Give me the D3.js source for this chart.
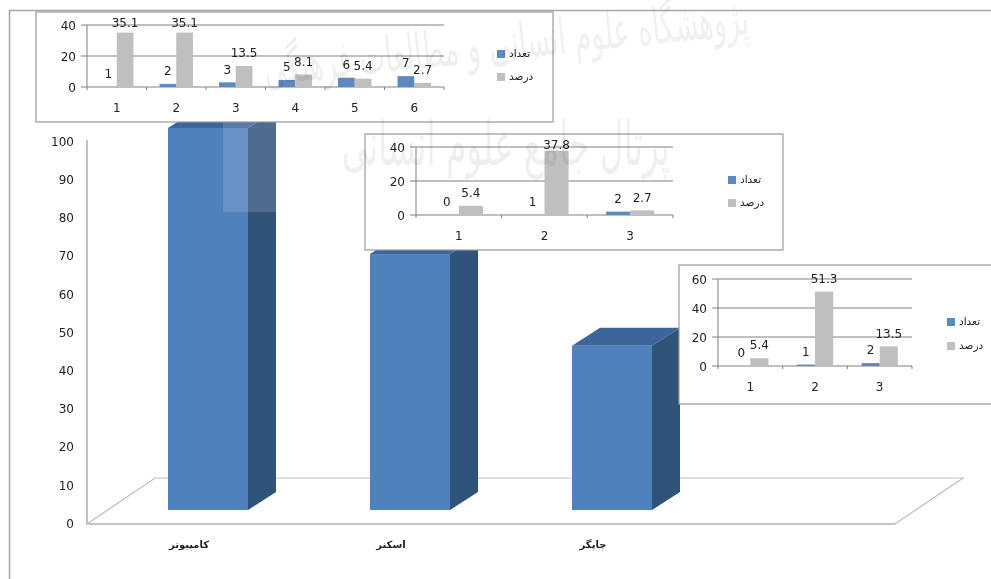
<!DOCTYPE html>
<html>
<head>
<meta charset="utf-8">
<script src="https://d3js.org/d3.v7.min.js"></script>
<style>
html, body { margin: 0; padding: 0; background: #fff; overflow: hidden; }
svg { display: block; filter: blur(0.35px); }
text { font-family: "DejaVu Sans", sans-serif; fill: #222; font-size: 12px; }
.domain { display: none; }
</style>
</head>
<body>
<div id="chart"></div>
<script>
// Datos del grafico principal
var mainCategories = ["کامپیوتر", "اسکنر", "چاپگر", ""];
var mainValues = [100, 67, 43];
var mainTicks = [0, 10, 20, 30, 40, 50, 60, 70, 80, 90, 100];

// Datos de los tres recuadros
var seriesNames = ["تعداد", "درصد"];

var inset1Cats = ["1", "2", "3", "4", "5", "6"];
var inset1Counts = [0, 2, 3, 4.5, 6, 7];
var inset1CountLabels = ["1", "2", "3", "5", "6", "7"];
var inset1Percents = [35.1, 35.1, 13.5, 8.1, 5.4, 2.7];
var inset1Ticks = [0, 20, 40];

var inset2Cats = ["1", "2", "3"];
var inset2Counts = [0, 0, 2];
var inset2CountLabels = ["0", "1", "2"];
var inset2Percents = [5.4, 37.8, 2.7];
var inset2Ticks = [0, 20, 40];

var inset3Cats = ["1", "2", "3"];
var inset3Counts = [0, 1, 2];
var inset3CountLabels = ["0", "1", "2"];
var inset3Percents = [5.4, 51.3, 13.5];
var inset3Ticks = [0, 20, 40, 60];

var azul = "#4f81bd";
var azulLado = "#305379";
var azulTapa = "#3b659b";
var azulChico = "#5b89c0";
var gris = "#bfbfbf";

var svg = d3.select("#chart").append("svg")
  .attr("width", 991)
  .attr("height", 579);

// Marco de la pagina
svg.append("path")
  .attr("d", "M991,10.5H9.5V579")
  .attr("fill", "none")
  .attr("stroke", "#a8a8a8")
  .attr("stroke-width", 1.6);

/*
 * Grafico principal
 */
var yMain = d3.scaleLinear().domain([0, 100]).range([522, 140]);
var xMain = d3.scaleBand().domain(mainCategories).range([107, 915]).padding(0);
var barAncho = 80;
var dx = 28;
var dy = -18;
var base = 510;

function xBarra(cat) {
  return xMain(cat) + (xMain.bandwidth() - barAncho) / 2;
}

// Piso en perspectiva
svg.append("path")
  .attr("d", "M87,524L155,478H963L895,524Z")
  .attr("fill", "none")
  .attr("stroke", "#bdbdbd")
  .attr("stroke-width", 1.2);
svg.append("line")
  .attr("x1", 87).attr("x2", 895)
  .attr("y1", 524).attr("y2", 524)
  .attr("stroke", "#c4c4c4")
  .attr("stroke-width", 2);

svg.append("g")
  .attr("transform", "translate(87,1.5)")
  .call(d3.axisLeft(yMain).tickValues(mainTicks).tickSize(0).tickPadding(13));
svg.append("line")
  .attr("x1", 87).attr("x2", 87)
  .attr("y1", yMain(100)).attr("y2", 524)
  .attr("stroke", "#c0c0c0")
  .attr("stroke-width", 2);

var barras = svg.selectAll(".barra")
  .data(mainValues)
  .enter().append("g")
  .attr("class", "barra")
  .attr("transform", function(d, i) {
    return "translate(" + xBarra(mainCategories[i]) + "," + (base - (yMain(0) - yMain(d))) + ")";
  });

barras.append("path")
  .attr("fill", azulTapa)
  .attr("d", "M0,0L" + dx + "," + dy + "H" + (barAncho + dx) + "L" + barAncho + ",0Z");
barras.append("path")
  .attr("fill", azulLado)
  .attr("d", function(d) {
    var h = yMain(0) - yMain(d);
    return "M" + barAncho + ",0L" + (barAncho + dx) + "," + dy + "V" + (h + dy) + "L" + barAncho + "," + h + "Z";
  });
barras.append("rect")
  .attr("fill", azul)
  .attr("width", barAncho)
  .attr("height", function(d) { return yMain(0) - yMain(d); });

svg.selectAll(".catMain")
  .data(mainCategories.slice(0, 3))
  .enter().append("text")
  .attr("class", "catMain")
  .attr("x", function(d) { return xBarra(d) + 21; })
  .attr("y", 548)
  .attr("text-anchor", "middle")
  .style("font-size", "10px")
  .style("font-weight", "bold")
  .text(function(d) { return d; });

// Rectangulo claro sobre la primera barra
svg.append("rect")
  .attr("x", 223).attr("y", 122)
  .attr("width", 54).attr("height", 90)
  .attr("fill", "#fff")
  .attr("opacity", 0.15);

/*
 * Recuadros
 */
function dibujarRecuadro(op) {
  var g = svg.append("g");

  g.append("rect")
    .attr("x", op.box[0]).attr("y", op.box[1])
    .attr("width", op.box[2] - op.box[0]).attr("height", op.box[3] - op.box[1])
    .attr("fill", "#fff")
    .attr("stroke", "#9a9a9a")
    .attr("stroke-width", 1.2);

  var x = d3.scaleBand().domain(op.cats).range([op.x0, op.x1]);
  var xSerie = d3.scaleBand().domain(seriesNames).range([0, x.bandwidth()]).paddingInner(0).paddingOuter(0.78);
  var y = d3.scaleLinear().domain(op.dominio).range([op.y0, op.y1]);

  // Lineas de grilla
  g.selectAll(".grilla")
    .data(op.ticks)
    .enter().append("line")
    .attr("x1", op.x0 - 6).attr("x2", op.x1)
    .attr("y1", function(d) { return y(d); })
    .attr("y2", function(d) { return y(d); })
    .attr("stroke", "#808080")
    .attr("stroke-width", 1.1);
  g.append("line")
    .attr("x1", op.x0).attr("x2", op.x0)
    .attr("y1", op.y1).attr("y2", op.y0 + 3)
    .attr("stroke", "#808080");

  g.append("g")
    .attr("transform", "translate(" + op.x0 + ",1)")
    .call(d3.axisLeft(y).tickValues(op.ticks).tickSize(0).tickPadding(11));

  g.append("g")
    .attr("transform", "translate(0," + op.y0 + ")")
    .call(d3.axisBottom(x).tickSize(0).tickPadding(16));

  // Marcas entre categorias
  g.selectAll(".marca")
    .data(op.cats)
    .enter().append("line")
    .attr("x1", function(d) { return x(d) + x.bandwidth(); })
    .attr("x2", function(d) { return x(d) + x.bandwidth(); })
    .attr("y1", op.y0).attr("y2", op.y0 + 3)
    .attr("stroke", "#808080");

  // Barras
  g.selectAll(".cant")
    .data(op.counts)
    .enter().append("rect")
    .attr("x", function(d, i) { return x(op.cats[i]) + xSerie(seriesNames[0]); })
    .attr("y", function(d) { return y(d); })
    .attr("width", xSerie.bandwidth())
    .attr("height", function(d) { return op.y0 - y(d); })
    .attr("fill", azulChico);
  g.selectAll(".porc")
    .data(op.percents)
    .enter().append("rect")
    .attr("x", function(d, i) { return x(op.cats[i]) + xSerie(seriesNames[1]); })
    .attr("y", function(d) { return y(d); })
    .attr("width", xSerie.bandwidth())
    .attr("height", function(d) { return op.y0 - y(d); })
    .attr("fill", gris);

  // Etiquetas
  g.selectAll(".etiqCant")
    .data(op.counts)
    .enter().append("text")
    .attr("x", function(d, i) { return x(op.cats[i]) + xSerie(seriesNames[0]) + xSerie.bandwidth() / 2; })
    .attr("y", function(d) { return y(d) - 13; })
    .attr("dy", "0.35em")
    .attr("text-anchor", "middle")
    .text(function(d, i) { return op.countLabels[i]; });
  g.selectAll(".etiqPorc")
    .data(op.percents)
    .enter().append("text")
    .attr("x", function(d, i) { return x(op.cats[i]) + xSerie(seriesNames[1]) + xSerie.bandwidth() / 2; })
    .attr("y", function(d) { return Math.max(y(d) - 13, op.y1 - 2); })
    .attr("dy", "0.35em")
    .attr("text-anchor", "middle")
    .text(function(d) { return d; });

  // Leyenda
  var colores = d3.scaleOrdinal().domain(seriesNames).range([azulChico, gris]);
  seriesNames.forEach(function(nombre, i) {
    g.append("rect")
      .attr("x", op.legend[0] - 4).attr("y", op.legend[1 + i] - 4)
      .attr("width", 8).attr("height", 8)
      .attr("fill", colores(nombre));
    g.append("text")
      .attr("x", op.legend[0] + 8).attr("y", op.legend[1 + i] - 1)
      .attr("dy", "0.35em")
      .style("font-size", "10.5px")
      .style("direction", "rtl")
      .attr("text-anchor", "end")
      .text(nombre);
  });
}

dibujarRecuadro({
  box: [36, 12, 553, 122], cats: inset1Cats, counts: inset1Counts, countLabels: inset1CountLabels,
  percents: inset1Percents, ticks: inset1Ticks, dominio: [0, 40],
  x0: 87, x1: 444, y0: 87, y1: 25, legend: [501, 54, 77]
});
dibujarRecuadro({
  box: [365, 134, 783, 250], cats: inset2Cats, counts: inset2Counts, countLabels: inset2CountLabels,
  percents: inset2Percents, ticks: inset2Ticks, dominio: [0, 40],
  x0: 416, x1: 673, y0: 215, y1: 147, legend: [732, 180, 203]
});
dibujarRecuadro({
  box: [679, 265, 1000, 404], cats: inset3Cats, counts: inset3Counts, countLabels: inset3CountLabels,
  percents: inset3Percents, ticks: inset3Ticks, dominio: [0, 60],
  x0: 718, x1: 912, y0: 366, y1: 279, legend: [951, 322, 346]
});

/*
 * Marca de agua
 */
svg.append("text")
  .attr("transform", "translate(750,34) rotate(-6) scale(0.75,1.4)")
  .style("direction", "rtl")
  .style("font-size", "36px")
  .style("fill", "#000")
  .style("opacity", 0.06)
  .text("پژوهشگاه علوم انسانی و مطالعات فرهنگی");
svg.append("text")
  .attr("transform", "translate(670,165) scale(0.82,1.5)")
  .style("direction", "rtl")
  .style("font-size", "40px")
  .style("fill", "#000")
  .style("opacity", 0.06)
  .text("پرتال جامع علوم انسانی");
</script>
</body>
</html>
